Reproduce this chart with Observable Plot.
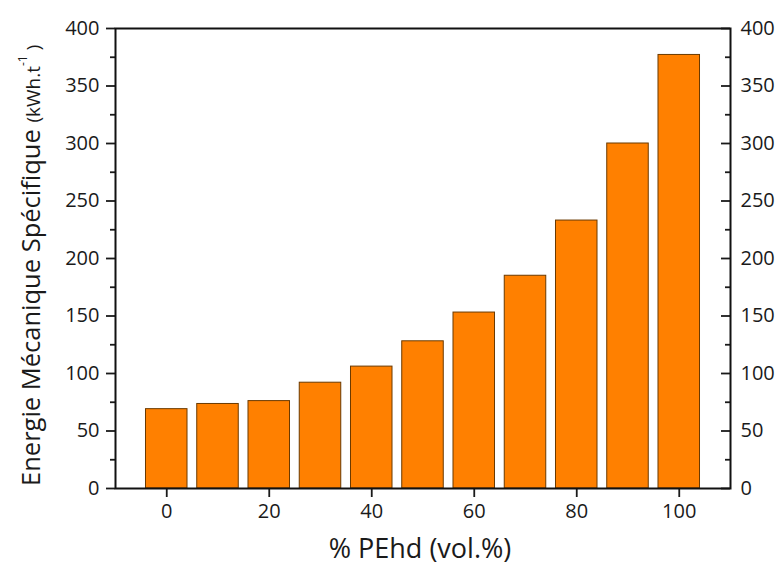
<!DOCTYPE html>
<html><head><meta charset="utf-8">
<script src="https://cdn.jsdelivr.net/npm/d3@7"></script>
<script src="https://cdn.jsdelivr.net/npm/@observablehq/plot@0.6"></script>
<style>body{margin:0;background:#fff} svg{font-family:"Open Sans",sans-serif}</style>
</head><body><div id="chart"></div>
<script>
const pehd = [0, 10, 20, 30, 40, 50, 60, 70, 80, 90, 100];
const energy = [69, 73.5, 76, 92, 106, 128, 153, 185, 233, 300, 377];
const xTicks = [0, 20, 40, 60, 80, 100];
const yTicks = [0, 50, 100, 150, 200, 250, 300, 350, 400];
const yMinorTicks = [25, 75, 125, 175, 225, 275, 325, 375];
const xLabel = "% PEhd (vol.%)";
const yLabelMain = "Energie Mécanique Spécifique";
const yLabelUnit = "(kWh.t";
const yLabelExp = "-1";
const yLabelClose = ")";

const data = pehd.map((p, i) => ({pehd: p, energy: energy[i]}));
const halfWidth = 4.05;
const axisStroke = 1.8;

const plot = Plot.plot({
  width: 782, height: 565,
  marginLeft: 115, marginRight: 52, marginTop: 28, marginBottom: 77,
  style: {fontFamily: "Open Sans", fontSize: "20px", color: "#1a1a1a", background: "white"},
  x: {domain: [-10, 110]},
  y: {domain: [0, 400]},
  marks: [
    Plot.rectY(data, {x1: d => d.pehd - halfWidth, x2: d => d.pehd + halfWidth, y1: 0, y2: "energy",
      fill: "#FF8000", stroke: "#6b3a00", strokeWidth: 1}),
    Plot.axisX({ticks: xTicks, tickSize: 9, tickPadding: 6, tickFormat: d => d, label: null, strokeWidth: axisStroke}),
    Plot.axisY({ticks: yTicks, tickSize: 9, tickPadding: 7, tickFormat: d => d, label: null, strokeWidth: axisStroke}),
    Plot.axisY({ticks: yMinorTicks, tickSize: 5, tickFormat: () => "", label: null, strokeWidth: axisStroke}),
    Plot.axisY({anchor: "left", ticks: yTicks, tickSize: 9, tickFormat: () => "", label: null, dx: 615, strokeWidth: axisStroke}),
    Plot.axisY({anchor: "left", ticks: yMinorTicks, tickSize: 5, tickFormat: () => "", label: null, dx: 615, strokeWidth: axisStroke}),
    Plot.axisY({anchor: "right", ticks: yTicks, tickSize: 0, tickPadding: 10, tickFormat: d => d, label: null}),
    Plot.frame({stroke: "#111", strokeWidth: 2})
  ]
});

const svg = d3.select(plot);
const yl = svg.append("text")
  .attr("transform", "translate(40,486) rotate(-90)")
  .attr("text-anchor", "start")
  .attr("font-size", 25.5).attr("fill", "#1a1a1a");
yl.append("tspan").text(yLabelMain + " ");
yl.append("tspan").attr("font-size", 19).text(yLabelUnit);
yl.append("tspan").attr("font-size", 12).attr("dy", -13).text(yLabelExp);
yl.append("tspan").attr("font-size", 19).attr("dy", 13).text(" " + yLabelClose);

svg.append("text")
  .attr("x", 420).attr("y", 558)
  .attr("text-anchor", "middle")
  .attr("font-size", 27).attr("fill", "#1a1a1a")
  .text(xLabel);

document.getElementById("chart").appendChild(plot);
</script>
</body></html>
